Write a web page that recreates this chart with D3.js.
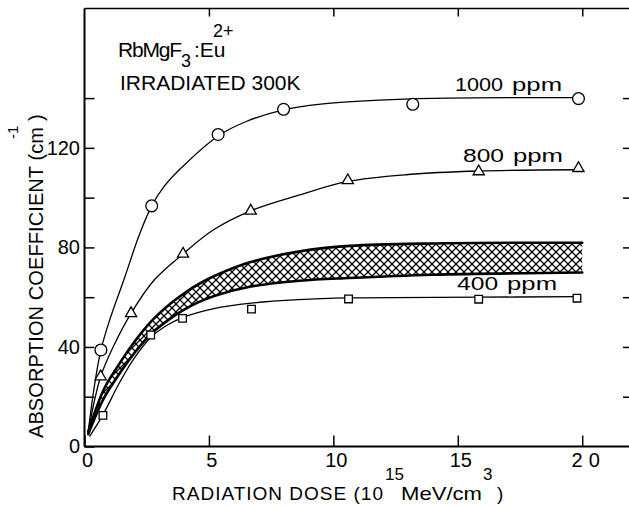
<!DOCTYPE html>
<html>
<head>
<meta charset="utf-8">
<script src="https://cdn.jsdelivr.net/npm/d3@7"></script>
<style>
  html, body { margin: 0; padding: 0; background: #fff; overflow: hidden; }
  svg { display: block; font-family: "Liberation Sans", Arial, sans-serif; }
</style>
</head>
<body>
<svg id="chart" width="629" height="508"></svg>
<script>
// Measured absorption coefficient (cm^-1) versus radiation dose (10^15 MeV/cm^3)
const dose1000 = [0.66, 2.70, 5.37, 8.00, 13.19, 19.85];
const abs1000  = [38.8, 96.7, 125.4, 135.5, 137.5, 139.8];

const dose800 = [0.65, 1.87, 3.96, 6.68, 10.58, 15.84, 19.85];
const abs800  = [28.1, 53.5, 77.4, 94.7, 106.9, 110.5, 111.8];

const dose400 = [0.74, 2.66, 3.94, 6.71, 10.61, 15.84, 19.79];
const abs400  = [12.5, 44.8, 51.5, 55.2, 59.3, 59.2, 59.6];

// Hand-drawn fit curves through each data set, [dose, coefficient]
const fit1000 = [[0.15, 6], [0.4, 24.5], [0.66, 38.8], [1.0, 50.5], [1.6, 67.5], [2.2, 85],
                 [2.7, 96.7], [3.2, 104.5], [3.83, 111.4], [5.37, 124.8], [6.5, 130.6],
                 [8, 135.3], [9.5, 137.6], [11.85, 139.2], [14, 139.9], [19.85, 140.2]];
const fit800  = [[0.15, 6], [0.65, 28.1], [1.2, 41], [1.87, 53.5], [2.8, 66.9], [3.96, 77.4],
                 [5.17, 87], [6.68, 94.7], [8.65, 101.1], [10.58, 106.5], [13, 109.3],
                 [15.84, 110.7], [19.85, 111.2]];
const fit400  = [[0.2, 4], [0.74, 12.7], [1.4, 25.5], [2.0, 35.5], [2.66, 43.8], [3.3, 48.6],
                 [3.94, 51.8], [5.2, 55.4], [6.7, 57.6], [8.6, 59], [10.61, 59.7],
                 [15.84, 60], [19.8, 60.2]];

// Cross-hatched band: lower and upper bounds on a shared dose grid
const bandDose  = [0.15, 0.78, 1.32, 2.0, 2.7, 3.46, 4.04, 4.63, 5.24, 6.64, 8.65, 10.65, 14, 20];
const bandUpper = [6, 23, 32, 42, 50.5, 57.5, 61.8, 65.5, 68.6, 74, 78.4, 80.6, 81.6, 81.9];
const bandLower = [5, 19.4, 28, 37.5, 45.5, 51.5, 55.2, 58.2, 60.6, 64.2, 66.6, 67.7, 69, 69.9];

// Axis ticks
const xTicks = [0, 5, 10, 15, 20];
const yTicks = [0, 20, 40, 60, 80, 100, 120, 140];
const yTickLabels = [0, 40, 80, 120];

const svg = d3.select("#chart");
const x = d3.scaleLinear().domain([0, 22]).range([84.5, 632]);
const y = d3.scaleLinear().domain([0, 176]).range([446.5, 8.5]);
const ink = "#000";
const smooth = d3.curveCatmullRom.alpha(0.5);

// hatch pattern for the band
const defs = svg.append("defs");
defs.append("pattern")
    .attr("id", "xhatch")
    .attr("patternUnits", "userSpaceOnUse")
    .attr("width", 8).attr("height", 8)
  .append("path")
    .attr("d", "M-1,-1L9,9M9,-1L-1,9")
    .attr("stroke", ink).attr("stroke-width", 1.25).attr("fill", "none");

// ---- axes ----
function styleAxis(g) {
  g.select(".domain").remove();
  g.attr("font-size", 20).attr("font-family", "'Liberation Sans', Arial, sans-serif");
  g.selectAll(".tick line").attr("stroke", ink).attr("stroke-width", 1.5);
  g.selectAll(".tick text").attr("fill", ink);
}

svg.append("g")
    .attr("transform", `translate(${x(0)},0)`)
    .call(d3.axisLeft(y).tickValues(yTicks).tickSizeInner(-10).tickSizeOuter(0).tickPadding(4.5)
      .tickFormat(v => yTickLabels.includes(v) ? v : ""))
    .call(styleAxis);

svg.append("g")
    .attr("transform", `translate(${x(22)},0)`)
    .call(d3.axisRight(y).tickValues(yTicks.filter(v => v > 0)).tickSizeInner(-9).tickSizeOuter(0)
      .tickFormat(""))
    .call(styleAxis);

svg.append("g")
    .attr("transform", `translate(0,${y(0)})`)
    .call(d3.axisBottom(x).tickValues(xTicks).tickSizeInner(-11).tickSizeOuter(0).tickPadding(6.5))
    .call(styleAxis)
    .call(g => g.selectAll(".tick text").attr("dx", 2.5))
    .call(g => g.selectAll(".tick text").filter(d => d === 20)
                .attr("letter-spacing", 6).attr("dx", 6));

svg.append("g")
    .attr("transform", `translate(0,${y(176)})`)
    .call(d3.axisTop(x).tickValues(xTicks.filter(v => v > 0)).tickSizeInner(-8).tickSizeOuter(0)
      .tickFormat(""))
    .call(styleAxis);

// frame
const frame = svg.append("g").attr("stroke", ink).attr("fill", "none");
frame.append("line").attr("x1", x(0)).attr("x2", x(0)).attr("y1", y(176)).attr("y2", y(0)).attr("stroke-width", 2);
frame.append("line").attr("x1", x(0)).attr("x2", x(22)).attr("y1", y(0)).attr("y2", y(0)).attr("stroke-width", 2);
frame.append("line").attr("x1", x(0)).attr("x2", x(22)).attr("y1", y(176)).attr("y2", y(176)).attr("stroke-width", 1.5);
frame.append("line").attr("x1", x(22)).attr("x2", x(22)).attr("y1", y(176)).attr("y2", y(0)).attr("stroke-width", 1.5);

// ---- hatched band ----
const band = bandDose.map((d, i) => ({ d, lo: bandLower[i], hi: bandUpper[i] }));
svg.append("path")
    .datum(band)
    .attr("fill", "url(#xhatch)")
    .attr("d", d3.area().x(p => x(p.d)).y0(p => y(p.lo)).y1(p => y(p.hi)).curve(smooth));
["lo", "hi"].forEach(k => {
  svg.append("path")
      .datum(band)
      .attr("fill", "none").attr("stroke", ink).attr("stroke-width", 2.6)
      .attr("stroke-linecap", "round")
      .attr("d", d3.line().x(p => x(p.d)).y(p => y(p[k])).curve(smooth));
});

// ---- fit curves ----
const fitLine = d3.line().x(p => x(p[0])).y(p => y(p[1])).curve(smooth);
[fit1000, fit800, fit400].forEach(f => {
  svg.append("path")
      .datum(f)
      .attr("fill", "none").attr("stroke", ink).attr("stroke-width", 1.3)
      .attr("d", fitLine);
});

// ---- markers ----
const markers = svg.append("g").attr("fill", "#fff").attr("stroke", ink).attr("stroke-width", 1.3);
markers.selectAll(".c1000")
  .data(dose1000.map((d, i) => [d, abs1000[i]]))
  .join("circle")
    .attr("cx", p => x(p[0])).attr("cy", p => y(p[1])).attr("r", 5.9);
markers.selectAll(".t800")
  .data(dose800.map((d, i) => [d, abs800[i]]))
  .join("path")
    .attr("transform", p => `translate(${x(p[0])},${y(p[1])})`)
    .attr("d", d3.symbol(d3.symbolTriangle, 54));
markers.selectAll(".s400")
  .data(dose400.map((d, i) => [d, abs400[i]]))
  .join("path")
    .attr("transform", p => `translate(${x(p[0])},${y(p[1])})`)
    .attr("d", d3.symbol(d3.symbolSquare, 58));

// ---- series labels ----
const seriesLabels = svg.append("g").attr("font-size", 19).attr("fill", ink);
function seriesLabel(num, numLen, xNum, xUnit, base) {
  seriesLabels.append("text")
      .attr("x", x(xNum)).attr("y", y(base))
      .attr("textLength", numLen).attr("lengthAdjust", "spacingAndGlyphs")
      .text(num);
  seriesLabels.append("text")
      .attr("x", x(xUnit)).attr("y", y(base))
      .attr("textLength", 50).attr("lengthAdjust", "spacingAndGlyphs")
      .text("ppm");
}
seriesLabel("1000", 48, 14.89, 17.18, 142.97);
seriesLabel("800", 41, 15.21, 17.22, 114.44);
seriesLabel("400", 41, 14.97, 16.98, 62.89);

// ---- sample note ----
const note = svg.append("text").attr("font-size", 21).attr("fill", ink);
note.append("tspan").attr("x", 118).attr("y", 57).attr("letter-spacing", -1.2).text("RbMgF");
note.append("tspan").attr("x", 181).attr("y", 67).attr("font-size", 18).text("3");
note.append("tspan").attr("x", 194).attr("y", 57).text(":Eu");
note.append("tspan").attr("x", 213).attr("y", 37).attr("font-size", 18).text("2+");
svg.append("text").attr("font-size", 21).attr("fill", ink)
    .attr("x", 120).attr("y", 90).text("IRRADIATED 300K");

// ---- axis titles ----
const xTitle = svg.append("text").attr("font-size", 19).attr("fill", ink);
xTitle.append("tspan").attr("x", 172).attr("y", 500)
    .attr("textLength", 211).attr("lengthAdjust", "spacing").text("RADIATION DOSE (10");
xTitle.append("tspan").attr("x", 385).attr("y", 480).attr("font-size", 17).text("15");
xTitle.append("tspan").attr("x", 401).attr("y", 500)
    .attr("textLength", 81).attr("lengthAdjust", "spacingAndGlyphs").text("MeV/cm");
xTitle.append("tspan").attr("x", 483).attr("y", 480).attr("font-size", 17).text("3");
xTitle.append("tspan").attr("x", 497).attr("y", 500).text(")");

const yTitle = svg.append("text").attr("font-size", 20).attr("fill", ink)
    .attr("transform", "translate(43,0) rotate(-90)");
yTitle.append("tspan").attr("x", -438).attr("y", 0)
    .attr("textLength", 311).attr("lengthAdjust", "spacing").text("ABSORPTION COEFFICIENT (cm");
yTitle.append("tspan").attr("x", -139).attr("y", -25).attr("font-size", 15).text("-1");
yTitle.append("tspan").attr("x", -121).attr("y", 0).text(")");
</script>
</body>
</html>
